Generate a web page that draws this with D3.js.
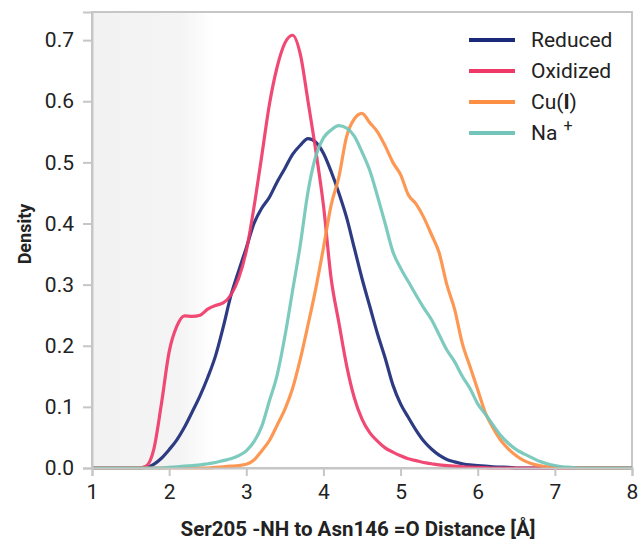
<!DOCTYPE html>
<html>
<head>
<meta charset="utf-8">
<script src="https://cdn.jsdelivr.net/npm/d3@7"></script>
<style>
  body { margin: 0; background: #fff; }
  svg { font-family: Roboto, "Noto Sans", sans-serif; }
</style>
</head>
<body>
<svg id="chart" width="638" height="540"></svg>
<script>
// distance grid (Angstrom), one density value per point
var distance = [1.0,1.1,1.2,1.3,1.4,1.5,1.6,1.7,1.8,1.9,2.0,2.1,2.2,2.3,2.4,2.5,2.6,2.7,2.8,2.9,
  3.0,3.1,3.2,3.3,3.4,3.5,3.6,3.7,3.8,3.9,4.0,4.1,4.2,4.3,4.4,4.5,4.6,4.7,4.8,4.9,
  5.0,5.1,5.2,5.3,5.4,5.5,5.6,5.7,5.8,5.9,6.0,6.1,6.2,6.3,6.4,6.5,6.6,6.7,6.8,6.9,
  7.0,7.1,7.2,7.3,7.4,7.5,7.6,7.7,7.8,7.9,8.0];

var reduced = [0,0,0,0,0,0,0,0.001,
  0.006,0.016,0.03,0.046,0.067,0.092,0.118,0.148,0.183,0.23,
  0.282,0.322,0.36,0.40,0.425,0.443,0.468,0.49,0.513,0.528,
  0.539,0.533,0.515,0.485,0.45,0.41,0.36,0.31,0.265,0.22,
  0.18,0.136,0.105,0.083,0.062,0.044,0.031,0.021,0.014,0.01,
  0.007,0.005,0.004,0.003,0.002,0.0015,0.001,0,0,0,
  0,0,0,0,0,0,0,0,0,0,0,0,0];

var oxidized = [0,0,0,0,0,0,0,0.003,
  0.03,0.105,0.19,0.232,0.249,0.248,0.25,0.26,0.266,0.27,
  0.283,0.31,0.355,0.427,0.51,0.595,0.656,0.695,0.708,0.677,
  0.6,0.52,0.43,0.31,0.238,0.168,0.115,0.08,0.058,0.044,
  0.033,0.026,0.02,0.015,0.012,0.009,0.007,0.005,0.004,0.003,
  0.002,0.0015,0.001,0.0005,0,0,0,0,0,0,
  0,0,0,0,0,0,0,0,0,0,0,0,0];

var cu1 = [0,0,0,0,0,0,0,0,
  0,0,0,0,0,0,0,0,0.001,0.002,
  0.003,0.004,0.006,0.013,0.028,0.045,0.07,0.096,0.13,0.178,
  0.234,0.293,0.36,0.43,0.476,0.542,0.571,0.58,0.565,0.55,
  0.527,0.5,0.48,0.447,0.432,0.41,0.382,0.352,0.3,0.26,
  0.204,0.166,0.128,0.09,0.065,0.045,0.031,0.02,0.012,0.007,
  0.004,0.002,0.001,0,0,0,0,0,0,0,0,0,0];

var sodium = [0,0,0,0,0,0,0,0,
  0,0,0.001,0.002,0.003,0.004,0.005,0.007,0.009,0.012,
  0.015,0.02,0.028,0.043,0.068,0.11,0.152,0.215,0.29,0.365,
  0.452,0.51,0.54,0.553,0.56,0.556,0.543,0.517,0.487,0.445,
  0.40,0.354,0.327,0.305,0.283,0.262,0.243,0.218,0.193,0.174,
  0.15,0.13,0.105,0.088,0.07,0.053,0.04,0.03,0.023,0.017,
  0.011,0.007,0.004,0.002,0.001,0,0,0,0,0,0,0,0];

var seriesNames = ["Reduced", "Oxidized", "Cu(I)", "Na+"];
var seriesColors = ["#1b2a78", "#ef3a67", "#fd8f45", "#72c5b8"];
var seriesValues = [reduced, oxidized, cu1, sodium];

var xTicks = [1, 2, 3, 4, 5, 6, 7, 8];
var yTicks = [0, 0.1, 0.2, 0.3, 0.4, 0.5, 0.6, 0.7];

var svg = d3.select("#chart");
var plotLeft = 92, plotRight = 632, plotTop = 12, plotBottom = 468;

var x = d3.scaleLinear().domain([1, 8]).range([plotLeft, plotRight]);
var y = d3.scaleLinear().domain([0, 0.746]).range([plotBottom, plotTop]);

// grey shaded band on the short-distance side
var defs = svg.append("defs");
var grad = defs.append("linearGradient").attr("id", "shade")
  .attr("x1", "0%").attr("x2", "100%").attr("y1", "0%").attr("y2", "0%");
grad.append("stop").attr("offset", "0%").attr("stop-color", "#f2f2f2");
grad.append("stop").attr("offset", "72%").attr("stop-color", "#f4f4f4");
grad.append("stop").attr("offset", "100%").attr("stop-color", "#ffffff");

svg.append("rect")
  .attr("x", x(1))
  .attr("y", plotTop)
  .attr("width", x(2.57) - x(1))
  .attr("height", plotBottom - plotTop)
  .attr("fill", "url(#shade)");

// frame
svg.append("rect")
  .attr("x", plotLeft).attr("y", plotTop)
  .attr("width", plotRight - plotLeft).attr("height", plotBottom - plotTop)
  .attr("fill", "none")
  .attr("stroke", "#c6c6c6")
  .attr("stroke-width", 2);

var line = d3.line()
  .x(function(d) { return x(d[0]); })
  .y(function(d) { return y(d[1]); })
  .curve(d3.curveMonotoneX);

seriesValues.forEach(function(vals, i) {
  var pts = distance.map(function(dv, j) { return [dv, vals[j]]; });
  svg.append("path")
    .datum(pts)
    .attr("d", line)
    .attr("fill", "none")
    .attr("stroke", seriesColors[i])
    .attr("stroke-width", 3.2)
    .attr("stroke-opacity", 0.92)
    .attr("stroke-linejoin", "round");
});

// axes
var xAxis = svg.append("g")
  .attr("transform", "translate(0," + plotBottom + ")")
  .call(d3.axisBottom(x).tickValues(xTicks).tickSize(8).tickPadding(8).tickFormat(d3.format("d")));

var yAxis = svg.append("g")
  .attr("transform", "translate(" + plotLeft + ",0)")
  .call(d3.axisLeft(y).tickValues(yTicks).tickSize(9).tickPadding(9).tickFormat(d3.format(".1f")));

[xAxis, yAxis].forEach(function(g) {
  g.select(".domain").attr("stroke", "#c6c6c6").attr("stroke-width", 2);
  g.selectAll(".tick line").attr("stroke", "#c6c6c6").attr("stroke-width", 2);
  g.selectAll(".tick text")
    .attr("fill", "#222")
    .style("font-size", "21px")
    .style("font-family", "Roboto, sans-serif");
});

// axis titles
svg.append("text")
  .attr("x", (plotLeft + plotRight) / 2 - 4)
  .attr("y", 536)
  .attr("text-anchor", "middle")
  .attr("font-size", 20.5)
  .attr("font-weight", "bold")
  .attr("fill", "#222")
  .text("Ser205 -NH to Asn146 =O Distance [Å]");

svg.append("text")
  .attr("transform", "translate(31," + ((plotTop + plotBottom) / 2 - 6) + ") rotate(-90)")
  .attr("text-anchor", "middle")
  .attr("font-size", 18)
  .attr("font-weight", "bold")
  .attr("fill", "#222")
  .text("Density");

// legend
var legend = svg.append("g").attr("transform", "translate(469,40)");
seriesNames.forEach(function(name, i) {
  var row = legend.append("g").attr("transform", "translate(0," + i * 31 + ")");
  row.append("line")
    .attr("x1", 0).attr("x2", 46)
    .attr("stroke", seriesColors[i])
    .attr("stroke-width", 4);
  var t = row.append("text")
    .attr("x", 62).attr("y", 7)
    .attr("font-size", 21)
    .attr("fill", "#222");
  if (name == "Cu(I)") {
    t.append("tspan").text("Cu(");
    t.append("tspan").attr("font-weight", "bold").text("I");
    t.append("tspan").text(")");
  } else if (name == "Na+") {
    t.append("tspan").text("Na");
    t.append("tspan").attr("dx", 6).attr("dy", -9).attr("font-size", 16).text("+");
  } else {
    t.text(name);
  }
});
</script>
</body>
</html>
